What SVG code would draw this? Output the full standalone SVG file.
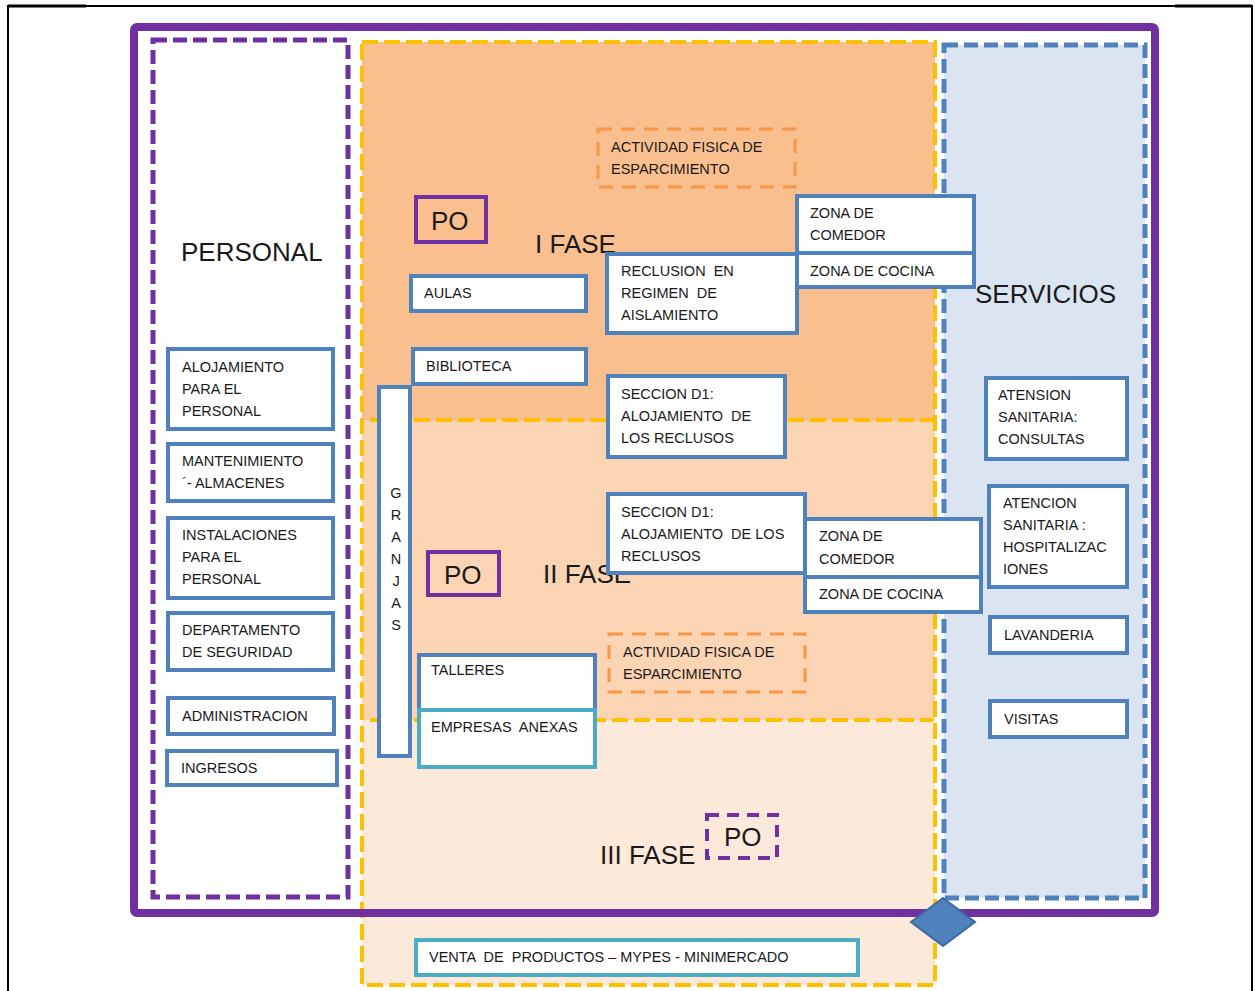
<svg xmlns="http://www.w3.org/2000/svg" width="1255" height="991" viewBox="0 0 1255 991">
<defs>
<style>
text{font-family:"Liberation Sans",Arial,sans-serif;fill:#1a1a1a;white-space:pre}
.s{font-size:14.5px}
.big{font-size:26px}
.box{fill:#fff;stroke:#4f81bd;stroke-width:4}
.teal{fill:#fff;stroke:#4bacc6;stroke-width:4}
.act{fill:none;stroke:#f79646;stroke-width:3;stroke-dasharray:14 9}
.po{fill:none;stroke:#7030a0;stroke-width:4}
.yd{fill:none;stroke:#ffc000;stroke-width:4;stroke-dasharray:16 6}
</style>
</defs>
<rect x="0" y="0" width="1255" height="991" fill="#fff"/>
<g id="page-frame" fill="none" stroke="#000">
<path d="M8 991 V6 H1252 V991" stroke-width="2"/>
<path d="M8 6 H86" stroke-width="3"/>
<path d="M1175 6 H1252" stroke-width="3"/>
</g>
<g id="fases">
<rect x="362" y="42" width="573" height="378" fill="#fabf8f"/>
<rect x="362" y="420" width="573" height="300" fill="#fbd4b4"/>
<rect x="362" y="720" width="573" height="265" fill="#fde9d9"/>
<rect class="yd" x="362" y="42" width="573" height="943"/>
<path class="yd" d="M370 420 H933"/>
<path class="yd" d="M370 720 H933"/>
</g>
<g id="servicios">
<rect x="944" y="45" width="201" height="853" fill="#dbe5f1" stroke="#4f81bd" stroke-width="5" stroke-dasharray="14 6"/>
<text class="big" x="975" y="303">SERVICIOS</text>
</g>
<g id="personal">
<rect x="153" y="40" width="195" height="857" fill="#fff" stroke="#7030a0" stroke-width="5" stroke-dasharray="14 6"/>
<text class="big" x="181" y="261">PERSONAL</text>
</g>
<g id="marco">
<rect x="134" y="27" width="1021" height="886" rx="3" fill="none" stroke="#7030a0" stroke-width="8"/>
</g>
<g id="connectors">
<polygon points="911,922 943,898 975,922 943,946" fill="#4f81bd" stroke="#3c6aa3" stroke-width="2"/>
</g>
<g id="alojamiento-personal"><rect class="box" x="168" y="349" width="165" height="80"/><text class="s" x="182" y="372">ALOJAMIENTO</text><text class="s" x="182" y="394">PARA EL</text><text class="s" x="182" y="416">PERSONAL</text></g>
<g id="mantenimiento"><rect class="box" x="168" y="444" width="165" height="57"/><text class="s" x="182" y="466">MANTENIMIENTO</text><text class="s" x="182" y="488">´- ALMACENES</text></g>
<g id="instalaciones"><rect class="box" x="168" y="518" width="165" height="80"/><text class="s" x="182" y="540">INSTALACIONES</text><text class="s" x="182" y="562">PARA EL</text><text class="s" x="182" y="584">PERSONAL</text></g>
<g id="seguridad"><rect class="box" x="168" y="613" width="165" height="57"/><text class="s" x="182" y="635">DEPARTAMENTO</text><text class="s" x="182" y="657">DE SEGURIDAD</text></g>
<g id="administracion"><rect class="box" x="168" y="698" width="166" height="36"/><text class="s" x="182" y="721">ADMINISTRACION</text></g>
<g id="ingresos"><rect class="box" x="167" y="751" width="170" height="34"/><text class="s" x="181" y="773">INGRESOS</text></g>
<g id="fase1-label"><text class="big" x="535" y="253">I FASE</text></g>
<g id="po1"><rect class="po" x="416" y="197" width="70" height="45"/><text class="big" x="431" y="230">PO</text></g>
<g id="actividad1"><rect class="act" x="598" y="129" width="197" height="58"/><text class="s" x="611" y="152">ACTIVIDAD FISICA DE</text><text class="s" x="611" y="174">ESPARCIMIENTO</text></g>
<g id="aulas"><rect class="box" x="411" y="276" width="175" height="35"/><text class="s" x="424" y="298">AULAS</text></g>
<g id="biblioteca"><rect class="box" x="413" y="349" width="173" height="35"/><text class="s" x="426" y="371">BIBLIOTECA</text></g>
<g id="reclusion"><rect class="box" x="607" y="254" width="190" height="79"/><text class="s" x="621" y="276">RECLUSION  EN</text><text class="s" x="621" y="298">REGIMEN  DE</text><text class="s" x="621" y="320">AISLAMIENTO</text></g>
<g id="comedor1"><rect class="box" x="797" y="196" width="177" height="57"/><text class="s" x="810" y="218">ZONA DE</text><text class="s" x="810" y="240">COMEDOR</text></g>
<g id="cocina1"><rect class="box" x="797" y="253" width="177" height="34"/><text class="s" x="810" y="276">ZONA DE COCINA</text></g>
<g id="seccion1"><rect class="box" x="608" y="376" width="177" height="81"/><text class="s" x="621" y="399">SECCION D1:</text><text class="s" x="621" y="421">ALOJAMIENTO  DE</text><text class="s" x="621" y="443">LOS RECLUSOS</text></g>
<g id="granjas"><rect class="box" x="379" y="387" width="31" height="369"/>
<text class="s" text-anchor="middle" x="396" y="498">G</text><text class="s" text-anchor="middle" x="396" y="520">R</text><text class="s" text-anchor="middle" x="396" y="542">A</text><text class="s" text-anchor="middle" x="396" y="564">N</text><text class="s" text-anchor="middle" x="396" y="586">J</text><text class="s" text-anchor="middle" x="396" y="608">A</text><text class="s" text-anchor="middle" x="396" y="630">S</text></g>
<g id="fase2-label"><text class="big" x="543" y="583">II FASE</text></g>
<g id="po2"><rect class="po" x="428" y="552" width="71" height="43"/><text class="big" x="444" y="584">PO</text></g>
<g id="seccion2"><rect class="box" x="608" y="494" width="197" height="79"/><text class="s" x="621" y="517">SECCION D1:</text><text class="s" x="621" y="539">ALOJAMIENTO  DE LOS</text><text class="s" x="621" y="561">RECLUSOS</text></g>
<g id="comedor2"><rect class="box" x="805" y="519" width="176" height="58"/><text class="s" x="819" y="541">ZONA DE</text><text class="s" x="819" y="564">COMEDOR</text></g>
<g id="cocina2"><rect class="box" x="805" y="577" width="176" height="35"/><text class="s" x="819" y="599">ZONA DE COCINA</text></g>
<g id="actividad2"><rect class="act" x="609" y="634" width="196" height="58"/><text class="s" x="623" y="657">ACTIVIDAD FISICA DE</text><text class="s" x="623" y="679">ESPARCIMIENTO</text></g>
<g id="talleres"><rect class="box" x="419" y="655" width="176" height="55"/><text class="s" x="431" y="675">TALLERES</text></g>
<g id="empresas"><rect class="teal" x="419" y="710" width="176" height="57"/><text class="s" x="431" y="732">EMPRESAS  ANEXAS</text></g>
<g id="fase3-label"><text class="big" x="600" y="864">III FASE</text></g>
<g id="po3"><rect x="707" y="815" width="70" height="43" fill="none" stroke="#7030a0" stroke-width="4" stroke-dasharray="12 8"/><text class="big" x="724" y="846">PO</text></g>
<g id="venta"><rect class="teal" x="416" y="940" width="442" height="35"/><text class="s" x="429" y="962">VENTA  DE  PRODUCTOS – MYPES - MINIMERCADO</text></g>
<g id="consultas"><rect class="box" x="986" y="378" width="141" height="81"/><text class="s" x="998" y="400">ATENSION</text><text class="s" x="998" y="422">SANITARIA:</text><text class="s" x="998" y="444">CONSULTAS</text></g>
<g id="hospitalizaciones"><rect class="box" x="989" y="486" width="138" height="101"/><text class="s" x="1003" y="508">ATENCION</text><text class="s" x="1003" y="530">SANITARIA :</text><text class="s" x="1003" y="552">HOSPITALIZAC</text><text class="s" x="1003" y="574">IONES</text></g>
<g id="lavanderia"><rect class="box" x="990" y="617" width="137" height="36"/><text class="s" x="1004" y="640">LAVANDERIA</text></g>
<g id="visitas"><rect class="box" x="990" y="701" width="137" height="36"/><text class="s" x="1004" y="724">VISITAS</text></g>
</svg>
